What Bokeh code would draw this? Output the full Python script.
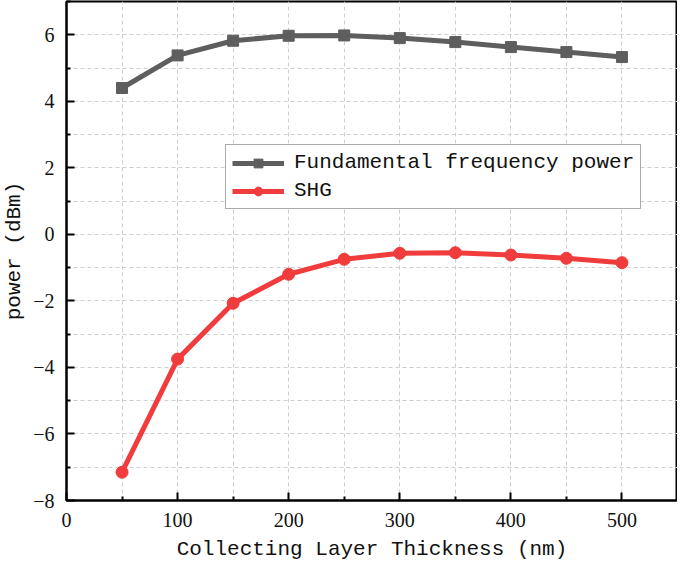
from bokeh.plotting import figure
from bokeh.models import FixedTicker, Legend, LegendItem, Range1d
from bokeh.embed import file_html
from bokeh.resources import INLINE

thickness = [50, 100, 150, 200, 250, 300, 350, 400, 450, 500]
fundamental = [4.40, 5.38, 5.82, 5.97, 5.98, 5.90, 5.78, 5.63, 5.48, 5.33]
shg = [-7.15, -3.75, -2.07, -1.20, -0.75, -0.57, -0.55, -0.62, -0.72, -0.85]

x_major = [0, 100, 200, 300, 400, 500]
x_minor = [50, 150, 250, 350, 450, 550]
y_major = [-8, -6, -4, -2, 0, 2, 4, 6]
y_minor = [-7, -5, -3, -1, 1, 3, 5, 7]

GRAY = "#5e5e5e"
RED = "#f03c3c"
MONO = "Liberation Mono"
SERIF = "Liberation Serif"

p = figure(width=677, height=563, output_backend="svg", toolbar_location=None,
           x_range=Range1d(0, 550), y_range=Range1d(-8, 7),
           min_border_left=57, min_border_right=0, min_border_top=1, min_border_bottom=40,
           min_border=0)
p.background_fill_color = "white"
p.border_fill_color = "white"
p.outline_line_color = "black"
p.outline_line_width = 2

l1 = p.line(thickness, fundamental, line_color=GRAY, line_width=5)
m1 = p.scatter(thickness, fundamental, marker="square", size=11, fill_color=GRAY, line_color=GRAY)
l2 = p.line(thickness, shg, line_color=RED, line_width=5)
m2 = p.scatter(thickness, shg, marker="circle", size=12, fill_color=RED, line_color=RED)

p.xaxis.ticker = FixedTicker(ticks=x_major, minor_ticks=x_minor)
p.yaxis.ticker = FixedTicker(ticks=y_major, minor_ticks=y_minor)
p.yaxis.major_label_overrides = {v: (str(v).replace("-", "\u2212")) for v in y_major}

for ax in (p.xaxis, p.yaxis):
    ax.axis_line_width = 2
    ax.axis_line_color = "black"
    ax.major_tick_in = 8
    ax.major_tick_out = 0
    ax.minor_tick_in = 4
    ax.minor_tick_out = 0
    ax.major_tick_line_width = 2
    ax.minor_tick_line_width = 2
    ax.major_label_text_font = SERIF
    ax.major_label_text_font_size = "20px"
    ax.major_label_text_color = "#111111"
    ax.axis_label_text_font = MONO
    ax.axis_label_text_font_size = "21px"
    ax.axis_label_text_font_style = "normal"
    ax.axis_label_text_color = "#111111"

p.xaxis.axis_label = "Collecting Layer Thickness (nm)"
p.yaxis.axis_label = "power (dBm)"
p.xaxis.major_label_standoff = 12
p.yaxis.major_label_standoff = 12
p.xaxis.axis_label_standoff = 8
p.yaxis.axis_label_standoff = 4

for g in (p.xgrid, p.ygrid):
    g.grid_line_color = "#cfcfcf"
    g.grid_line_dash = "4 3"
    g.grid_line_width = 1
    g.minor_grid_line_color = "#cfcfcf"
    g.minor_grid_line_dash = "4 3"
    g.minor_grid_line_width = 1

legend = Legend(items=[LegendItem(label="Fundamental frequency power", renderers=[l1, m1]),
                       LegendItem(label="SHG", renderers=[l2, m2])],
                location=(159, 291))
legend.label_text_font = MONO
legend.label_text_font_size = "21px"
legend.label_text_color = "#111111"
legend.glyph_width = 52
legend.glyph_height = 22
legend.label_height = 22
legend.padding = 6
legend.spacing = 5
legend.label_standoff = 10
legend.margin = 0
legend.border_line_color = "#555555"
legend.border_line_width = 1
legend.background_fill_alpha = 1
p.add_layout(legend)

open("out.html", "w").write(file_html(p, INLINE))
